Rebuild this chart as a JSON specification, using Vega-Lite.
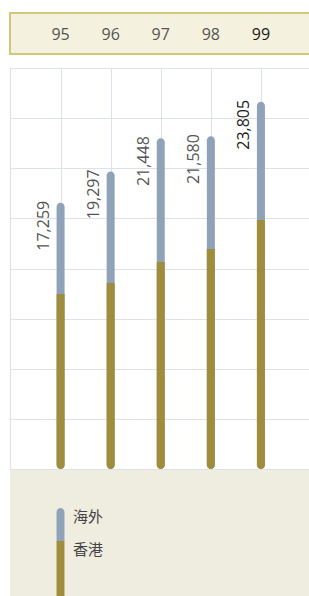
{
  "$schema": "https://vega.github.io/schema/vega-lite/v6.json",
  "padding": {"left": 9, "top": 12, "right": 0, "bottom": 0},
  "background": "white",
  "datasets": {
    "main": [
      {"year": 95, "label": "95", "hk": 11350, "total": 17259},
      {"year": 96, "label": "96", "hk": 12060, "total": 19297},
      {"year": 97, "label": "97", "hk": 13420, "total": 21448},
      {"year": 98, "label": "98", "hk": 14270, "total": 21580},
      {"year": 99, "label": "99", "hk": 16150, "total": 23805}
    ]
  },
  "config": {
    "view": {"stroke": null},
    "axis": {"labels": false, "ticks": false, "domain": false, "title": null, "gridColor": "#dde2ea", "gridWidth": 1}
  },
  "spacing": 12,
  "vconcat": [
    {
      "width": 300,
      "height": 41,
      "view": {"fill": "#f4f1de", "stroke": "#cfc77a", "strokeWidth": 2},
      "data": {"name": "main"},
      "mark": {"type": "text", "font": "Open Sans", "fontSize": 16, "baseline": "middle", "dy": 1},
      "encoding": {
        "x": {"field": "year", "type": "quantitative", "scale": {"domain": [93.99, 99.98], "nice": false, "zero": false, "padding": 0}, "axis": null},
        "text": {"field": "label"},
        "fontWeight": {"condition": {"test": "datum.year === 99", "value": "bold"}, "value": "normal"},
        "color": {"condition": {"test": "datum.year === 99", "value": "#1a1a1a"}, "value": "#555555"}
      }
    },
    {
      "spacing": 0,
      "vconcat": [
        {
          "width": 300,
          "height": 401,
          "view": {"fill": "white", "stroke": "#dde2ea"},
          "data": {"name": "main"},
          "encoding": {
            "x": {"field": "year", "type": "quantitative", "scale": {"domain": [93.99, 99.98], "nice": false, "zero": false, "padding": 0},
                  "axis": {"values": [95, 96, 97, 98, 99], "grid": true}}
          },
          "layer": [
            {
              "mark": {"type": "bar", "width": 8, "cornerRadius": 4},
              "encoding": {
                "y": {"field": "total", "type": "quantitative", "stack": null, "scale": {"domain": [0, 26000], "nice": false, "padding": 0},
                      "axis": {"values": [3250, 6500, 9750, 13000, 16250, 19500, 22750], "grid": true}},
                "color": {
                  "datum": "海外", "type": "nominal",
                  "scale": {"domain": ["海外", "香港"], "range": ["#8fa2b8", "#a08d3c"]},
                  "legend": {
                    "orient": "none", "legendX": 34, "legendY": 495, "title": null, "padding": 0,
                    "symbolType": "M-0.24,-1V1H0.24V-1Z", "symbolSize": 1089, "symbolStrokeWidth": 0, "symbolOpacity": 1,
                    "rowPadding": 0, "labelOffset": -4, "labelFontSize": 15, "labelFont": "Noto Sans CJK TC", "labelColor": "#444444",
                    "encode": {
                      "symbols": {"update": {"shape": {"signal": "datum.value === '香港' ? 'M-0.24,-1V2.45H0.24V-1Z' : 'M-0.24,-0.76A0.24,0.24 0 0 1 0.24,-0.76V1H-0.24Z'"}}},
                      "labels": {"update": {"dy": {"value": -8}}}
                    }
                  }
                }
              }
            },
            {
              "mark": {"type": "bar", "width": 8, "cornerRadiusBottomLeft": 4, "cornerRadiusBottomRight": 4},
              "encoding": {
                "y": {"field": "hk", "type": "quantitative", "stack": null},
                "color": {"datum": "香港", "type": "nominal"}
              }
            },
            {
              "mark": {"type": "text", "angle": 270, "align": "right", "baseline": "alphabetic", "dx": 2, "dy": -12, "font": "Open Sans", "fontSize": 16},
              "encoding": {
                "y": {"field": "total", "type": "quantitative"},
                "text": {"field": "total", "type": "quantitative", "format": ","},
                "fontWeight": {"condition": {"test": "datum.year === 99", "value": "bold"}, "value": "normal"},
                "color": {"condition": {"test": "datum.year === 99", "value": "#1a1a1a"}, "value": "#555555"}
              }
            }
          ]
        },
        {
          "width": 300,
          "height": 128,
          "view": {"fill": "#efece0", "stroke": null},
          "data": {"name": "main"},
          "mark": {"type": "text", "opacity": 0},
          "encoding": {"text": {"value": ""}}
        }
      ]
    }
  ]
}
